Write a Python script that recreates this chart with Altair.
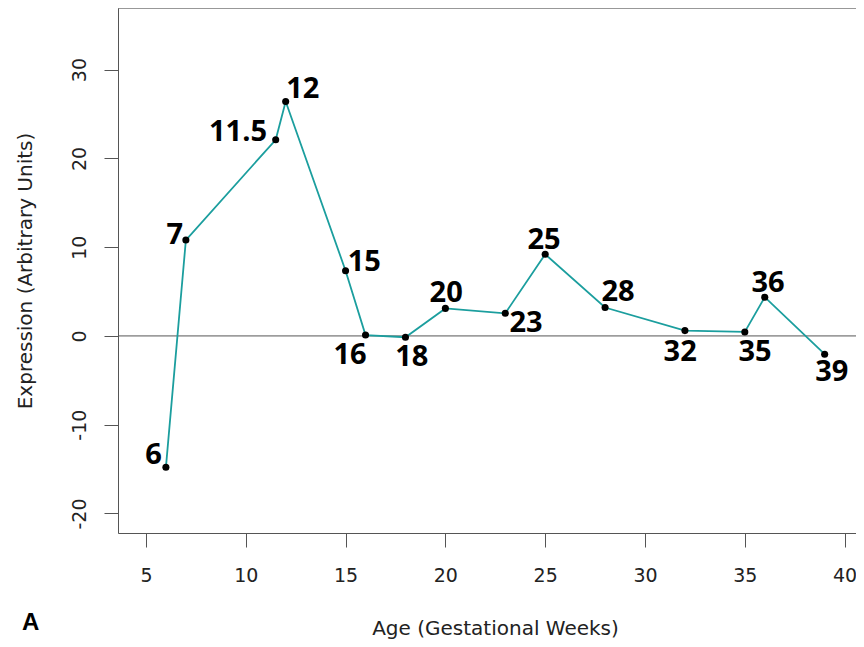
import altair as alt
import pandas as pd

# ---- data ----
weeks = [6, 7, 11.5, 12, 15, 16, 18, 20, 23, 25, 28, 32, 35, 36, 39]
expression = [-14.8, 10.8, 22.1, 26.4, 7.35, 0.1, -0.15, 3.1, 2.55, 9.2, 3.2, 0.6, 0.45, 4.36, -2.06]
labels = ["6", "7", "11.5", "12", "15", "16", "18", "20", "23", "25", "28", "32", "35", "36", "39"]
# label anchor points in data units (as with R's text(x, y, labels))
label_x = [5.38, 6.45, 9.61, 12.86, 15.94, 15.22, 18.32, 20.04, 24.04, 24.94, 28.65, 31.76, 35.51, 36.16, 39.36]
label_y = [-13.29, 11.49, 23.09, 27.93, 8.45, -2.03, -2.25, 4.95, 1.58, 10.92, 5.07, -1.69, -1.69, 6.08, -3.94]
x_ticks = [5, 10, 15, 20, 25, 30, 35, 40]
y_ticks = [-20, -10, 0, 10, 20, 30]

df = pd.DataFrame({"week": weeks, "expr": expression})
lab = pd.DataFrame({"week": label_x, "expr": label_y, "text": labels})
zero = pd.DataFrame({"expr": [0]})

W, H = 738, 525
xs = alt.Scale(domain=[3.6, 40.57], nice=False, zero=False)
ys = alt.Scale(domain=[-22.2, 36.94], nice=False, zero=False)

FRAME = "#555555"
AXFONT = "DejaVu Sans"

x_axis = alt.Axis(
    values=x_ticks, title="Age (Gestational Weeks)", grid=False,
    domainColor=FRAME, domainWidth=1, tickColor=FRAME, tickWidth=1, tickSize=14,
    labelFont=AXFONT, labelFontSize=19, labelColor="#222222", labelPadding=19,
    labelBaseline="top", labelAlign="center", labelExpr="toString(datum.value)",
    titleFont=AXFONT, titleFontSize=20, titleFontWeight="normal", titleColor="#222222",
    titleX=377, titleY=101, titleBaseline="alphabetic", titleAlign="center",
)
y_axis = alt.Axis(
    values=y_ticks, title="Expression (Arbitrary Units)", grid=False,
    domainColor=FRAME, domainWidth=1, tickColor=FRAME, tickWidth=1, tickSize=14,
    labelFont=AXFONT, labelFontSize=19, labelColor="#222222", labelPadding=19,
    labelAngle=270, labelAlign="center", labelBaseline="alphabetic",
    labelExpr="toString(datum.value)",
    titleFont=AXFONT, titleFontSize=20, titleFontWeight="normal", titleColor="#222222",
    titleAngle=270, titleX=-93, titleY=H / 2, titleAlign="center", titleBaseline="middle",
)

X = alt.X("week:Q", scale=xs, axis=x_axis)
Y = alt.Y("expr:Q", scale=ys, axis=y_axis)

line = alt.Chart(df).mark_line(color="#1b9e9e", strokeWidth=1.8).encode(x=X, y=Y)
pts = alt.Chart(df).mark_circle(color="black", size=50, opacity=1).encode(x=X, y=Y)
zline = alt.Chart(zero).mark_rule(color=FRAME, strokeWidth=1).encode(y=Y)
top = alt.Chart(zero).mark_rule(color=FRAME, strokeWidth=1).encode(
    x=alt.value(0), x2=alt.value(W), y=alt.value(0),
)
txt = alt.Chart(lab).mark_text(
    font="Open Sans", fontSize=29, fontWeight="bold", color="black",
    align="center", baseline="middle", dy=1,
).encode(x=X, y=Y, text="text:N")

chart = alt.layer(zline, top, line, pts, txt).properties(
    width=W, height=H,
    autosize=alt.AutoSizeParams(type="none"),
    padding={"left": 110, "top": 0, "right": 0, "bottom": 106},
    title=alt.TitleParams(
        "A", orient="bottom", anchor="start", frame="bounds", baseline="top",
        offset=-27, dx=7, fontSize=24, fontWeight="bold", font="Liberation Sans", color="black",
    ),
).configure_view(strokeWidth=0).configure(background="white")

chart.save("out.html", embed_options={"renderer": "svg", "actions": False})
